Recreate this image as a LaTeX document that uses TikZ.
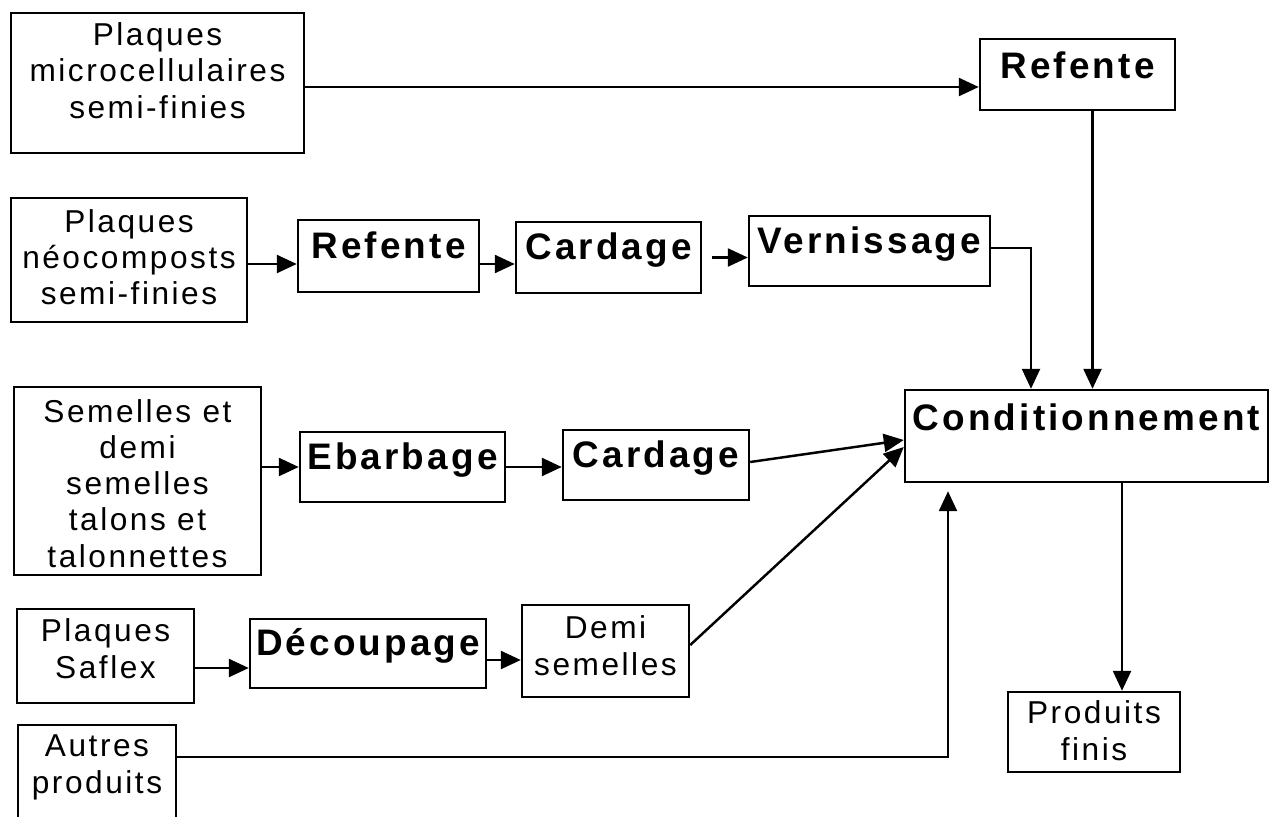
\documentclass[tikz,border=0pt]{standalone}
\usepackage{fontspec}
\setmainfont{Liberation Sans}
\newfontfamily\boxfont[LetterSpace=8,Ligatures=NoCommon]{Liberation Sans}
\newfontfamily\stepfont[LetterSpace=8.5,Ligatures=NoCommon]{Liberation Sans}
\usetikzlibrary{arrows.meta}
\tikzset{
  >={Triangle[length=2mm,width=1.8mm]},
  srcbox/.style={draw, line width=0.7pt, align=center, inner xsep=0.5mm, inner ysep=0pt,
    font=\boxfont\fontsize{9}{10.25}\selectfont, text depth=0.5mm},
  stepbox/.style={draw, line width=0.7pt, inner sep=0.5mm,
    font=\stepfont\bfseries\fontsize{10.5}{12}\selectfont, text height=2.6mm, text depth=2.2mm},
  flow/.style={->, line width=0.7pt}
}
\begin{document}
\begin{tikzpicture}[x=0.1mm,y=-0.1mm]
\useasboundingbox (0,0) rectangle (1275,816);

% raw products (left column)
\node[srcbox, minimum width=29.3mm, minimum height=14mm, text height=7.5mm] (plmicro) at (157.5,83) {Plaques\\microcellulaires\\semi-finies};
\node[srcbox, minimum width=23.6mm, minimum height=12.4mm, text height=9.4mm] (plneo) at (129,260) {Plaques\\néocomposts\\semi-finies};
\node[srcbox, minimum width=24.7mm, minimum height=18.8mm, text height=17.7mm] (semel) at (137.5,481) {Semelles et\\demi\\semelles\\talons et\\talonnettes};
\node[srcbox, minimum width=17.7mm, minimum height=9.4mm, text height=4.9mm] (saflex) at (105.5,656) {Plaques\\Saflex};
\node[srcbox, minimum width=15.8mm, minimum height=12mm, text height=2.1mm] (autres) at (97,785) {Autres\\produits};

% operations
\node[stepbox, minimum width=19.5mm, minimum height=7.1mm, text depth=1.9mm] (refA) at (1077.5,74.5) {Refente};
\node[stepbox, minimum width=18.1mm, minimum height=7.2mm] (refB) at (388.5,256) {Refente};
\node[stepbox, minimum width=18.5mm, minimum height=7.1mm] (cardA) at (608.5,257.5) {Cardage};
\node[stepbox, minimum width=24.1mm, minimum height=7mm] (vern) at (869.5,251) {Vernissage};
\node[stepbox, minimum width=20.5mm, minimum height=7mm] (ebarb) at (402.5,467) {Ebarbage};
\node[stepbox, minimum width=18.6mm, minimum height=7mm] (cardB) at (656,465) {Cardage};
\node[stepbox, minimum width=23.6mm, minimum height=6.9mm] (decoup) at (368,653.5) {Découpage};
\node[srcbox, minimum width=16.7mm, minimum height=9.2mm, text height=5.3mm] (demi) at (605.5,651) {Demi\\semelles};
\node[stepbox, minimum width=36.3mm, minimum height=9.2mm, text depth=3.8mm] (cond) at (1086.5,436) {Conditionnement};
\node[srcbox, minimum width=17.2mm, minimum height=8mm, text height=6.1mm] (prod) at (1094,732) {Produits\\finis};

% flows
\draw[flow] ([yshift=-0.4mm]plmicro.east) -- ([yshift=-0.4mm]plmicro.east -| refA.west);
\draw[flow] ([yshift=-0.4mm]plneo.east) -- ([yshift=-0.4mm]plneo.east -| refB.west);
\draw[flow] ([yshift=-0.8mm]refB.east) -- ([yshift=-0.8mm]refB.east -| cardA.west);
\draw[flow] ([xshift=1mm]cardA.east) -- (cardA.east -| vern.west);
\draw[flow] ([yshift=0.3mm]vern.east) -| ([xshift=-5.55mm]cond.north);
\draw[flow] ([xshift=1.5mm]refA.south) -- ([xshift=1.5mm]refA.south |- cond.north);
\draw[flow] (semel.east |- ebarb) -- (ebarb.west);
\draw[flow] (ebarb.east) -- (ebarb.east -| cardB.west);
\draw[flow] ([yshift=0.3mm]cardB.east) -- ([yshift=-0.4mm]cond.west);
\draw[flow] ([yshift=-1.2mm]saflex.east) -- ([yshift=-1.2mm]saflex.east -| decoup.west);
\draw[flow] ([yshift=-0.65mm]decoup.east) -- ([yshift=-0.65mm]decoup.east -| demi.west);
\draw[flow] ([yshift=0.6mm]demi.east) -- ([yshift=-1.1mm]cond.west);
\coordinate (autresin) at ([xshift=-13.85mm,yshift=-0.8mm]cond.south);
\draw[flow] ([yshift=2.8mm]autres.east) -| (autresin);
\draw[flow] ([xshift=3.55mm]cond.south) -- ([xshift=3.55mm]cond.south |- prod.north);
\end{tikzpicture}
\end{document}
